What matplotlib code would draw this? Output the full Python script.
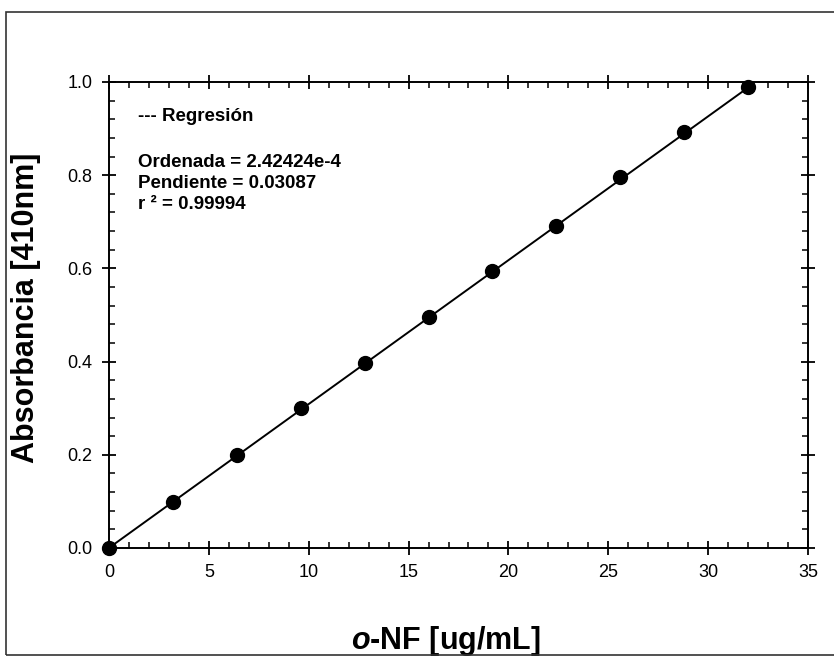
import matplotlib.pyplot as plt
from matplotlib.patches import Rectangle
from matplotlib.ticker import MultipleLocator
import numpy as np

plt.rcParams['font.family'] = ['Liberation Sans', 'DejaVu Sans']
plt.rcParams['mathtext.fontset'] = 'custom'
plt.rcParams['mathtext.bfit'] = 'Liberation Sans:italic:bold'

conc = [0, 3.2, 6.4, 9.6, 12.8, 16.0, 19.2, 22.4, 25.6, 28.8, 32.0]
absorb = [0.0, 0.099, 0.200, 0.300, 0.397, 0.496, 0.594, 0.691, 0.796, 0.893, 0.989]
ordenada = 2.42424e-4
pendiente = 0.03087

fig = plt.figure(figsize=(8.34, 6.57), dpi=100)
fig.patches.append(Rectangle((6 / 834, 2 / 657), 1.0, 643 / 657, transform=fig.transFigure,
                             fill=False, edgecolor='#333333', linewidth=1.2))
ax = fig.add_axes([109 / 834, 1 - 548 / 657, 699 / 834, 466 / 657])

xr = np.array([0, 32.0])
ax.plot(xr, ordenada + pendiente * xr, color='black', linewidth=1.4, zorder=2)
ax.plot(conc, absorb, 'o', color='black', markersize=10, zorder=3, clip_on=False)

ax.set_xlim(0, 35)
ax.set_ylim(0, 1.0)
ax.xaxis.set_major_locator(MultipleLocator(5))
ax.xaxis.set_minor_locator(MultipleLocator(1))
ax.yaxis.set_major_locator(MultipleLocator(0.2))
ax.yaxis.set_minor_locator(MultipleLocator(0.04))
ax.yaxis.set_major_formatter(plt.FormatStrFormatter('%.1f'))
ax.tick_params(which='major', direction='inout', length=9.5, width=1.3, labelsize=13,
               top=True, right=True, pad=7)
ax.tick_params(which='minor', direction='in', length=4, width=1.1, top=True, right=True)
for s in ax.spines.values():
    s.set_linewidth(1.4)

ax.set_xlabel(r'$\mathbfit{o}$-NF [ug/mL]', fontsize=22, fontweight='bold')
ax.xaxis.set_label_coords(0.482, -0.163)
ax.set_ylabel('Absorbancia [410nm]', fontsize=22, fontweight='bold')
ax.yaxis.set_label_coords(-0.097, 0.516)

ax.text(0.041, 0.927, '--- Regresión', transform=ax.transAxes, fontsize=13.5,
        fontweight='bold', va='center')
info = ['Ordenada = 2.42424e-4', 'Pendiente = 0.03087', 'r ² = 0.99994']
for i, t in enumerate(info):
    ax.text(0.041, 0.828 - i * 0.045, t, transform=ax.transAxes, fontsize=13.5,
            fontweight='bold', va='center')

fig.savefig('out.png', dpi=100)
